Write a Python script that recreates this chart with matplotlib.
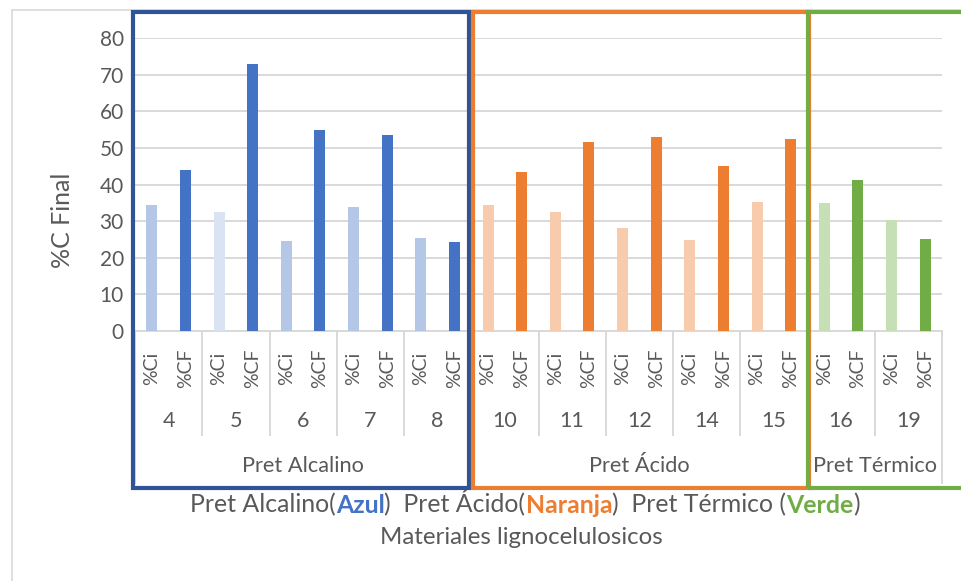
import matplotlib
matplotlib.use("Agg")
import matplotlib.pyplot as plt
from matplotlib.patches import Rectangle
from matplotlib.lines import Line2D
from matplotlib.offsetbox import TextArea, HPacker, AnnotationBbox

plt.rcParams['font.family'] = ['Lato', 'DejaVu Sans']

# ---------------- data ----------------
groups = ['4', '5', '6', '7', '8', '10', '11', '12', '14', '15', '16', '19']
treatments = ['Pret Alcalino', 'Pret Ácido', 'Pret Térmico']
group_counts = [5, 5, 2]
series_labels = ['%Ci', '%CF']
ci_values = [34.4, 32.5, 24.5, 33.8, 25.4, 34.4, 32.5, 28.1, 24.8, 35.2, 34.9, 30.3]
cf_values = [44.1, 72.9, 55.0, 53.7, 24.2, 43.4, 51.6, 52.9, 45.0, 52.4, 41.2, 25.1]
y_ticks = [0, 10, 20, 30, 40, 50, 60, 70, 80]

ci_colors = ['#B4C7E7', '#DAE3F3', '#B4C7E7', '#B4C7E7', '#B4C7E7',
             '#F8CBAD', '#F8CBAD', '#F8CBAD', '#F8CBAD', '#F8CBAD',
             '#C5E0B4', '#C5E0B4']
cf_colors = ['#4472C4'] * 5 + ['#ED7D31'] * 5 + ['#70AD47'] * 2
box_colors = ['#2F5597', '#ED7D31', '#70AD47']

TXT = '#595959'
GRID = '#D9D9D9'
W, H = 961, 581

def fx(px):
    return px / W

def fy(py):
    return 1 - py / H

fig = plt.figure(figsize=(W / 100, H / 100), dpi=100)
ax_left, ax_right, ax_top, ax_bot = 135, 942, 38.3, 331
ax = fig.add_axes([fx(ax_left), fy(ax_bot), fx(ax_right - ax_left), (ax_bot - ax_top) / H])
ax_hpx = ax_bot - ax_top

def ay(py):
    return (ax_bot - py) / ax_hpx

# bars
n = len(groups)
x_ci = [2 * i for i in range(n)]
x_cf = [2 * i + 1 for i in range(n)]
ax.bar(x_ci, ci_values, width=0.33, color=ci_colors, zorder=3)
ax.bar(x_cf, cf_values, width=0.33, color=cf_colors, zorder=3)

ax.set_xlim(-0.5, 2 * n - 0.5)
ax.set_ylim(0, 80)
ax.set_yticks(y_ticks)
ax.tick_params(axis='y', length=0, pad=8, labelsize=15, labelcolor=TXT)
ax.set_xticks([])
ax.yaxis.grid(True, color=GRID, lw=1.4)
ax.set_axisbelow(True)
for s in ['left', 'right', 'top']:
    ax.spines[s].set_visible(False)
ax.spines['bottom'].set_color(GRID)
ax.spines['bottom'].set_linewidth(1.4)

xt = ax.get_xaxis_transform()
# level 1 labels
for i in range(n):
    for j, xv in enumerate([x_ci[i], x_cf[i]]):
        ax.text(xv, ay(368), series_labels[j], rotation=90, ha='center', va='center',
                fontsize=14, color=TXT, transform=xt, clip_on=False)
    ax.text(2 * i + 0.5, ay(421), groups[i], ha='center', va='center',
            fontsize=15.5, color=TXT, transform=xt, clip_on=False)

# treatment labels and separators
start = 0
boundaries = [-0.5]
for t, c in zip(treatments, group_counts):
    end = start + c
    ax.text((2 * start + 2 * end - 1) / 2, ay(466), t, ha='center', va='center',
            fontsize=15.7, color=TXT, transform=xt, clip_on=False)
    for g in range(start + 1, end):
        ax.add_line(Line2D([2 * g - 0.5] * 2, [0, ay(435)], transform=xt, color=GRID,
                           lw=1.4, clip_on=False))
    boundaries.append(2 * end - 0.5)
    start = end
for b in boundaries:
    ax.add_line(Line2D([b, b], [0, ay(483)], transform=xt, color=GRID, lw=1.4, clip_on=False))

# y label
fig.text(fx(62), fy(220), '%C Final', rotation=90, ha='center', va='center',
         fontsize=18, color=TXT)

# colored caption line
parts = [('Pret Alcalino(', TXT, 'normal'), ('Azul', '#4472C4', 'bold'),
         (')  Pret Ácido(', TXT, 'normal'), ('Naranja', '#ED7D31', 'bold'),
         (')  Pret Térmico (', TXT, 'normal'), ('Verde', '#70AD47', 'bold'),
         (')', TXT, 'normal')]
boxes = [TextArea(t, textprops=dict(color=c, fontsize=17.9, fontweight=w)) for t, c, w in parts]
hp = HPacker(children=boxes, align='baseline', pad=0, sep=0)
ab = AnnotationBbox(hp, (fx(525), fy(503)), xycoords='figure fraction', frameon=False,
                    box_alignment=(0.5, 0.5))
fig.add_artist(ab)
fig.text(fx(521), fy(537), 'Materiales lignocelulosicos', ha='center', va='center',
         fontsize=17.3, color=TXT)

# outer chart border
fig.add_artist(Line2D([fx(12), fx(12)], [fy(10), 0], transform=fig.transFigure, color=GRID, lw=1.2))
fig.add_artist(Line2D([fx(12), 1], [fy(10), fy(10)], transform=fig.transFigure, color=GRID, lw=1.2))

# treatment boxes (pixel coords of line centres)
box_px = [(133, 12, 469, 488), (473, 12, 809, 488), (808, 12, 975, 488)]
for (x0, y0, x1, y1), c in zip(box_px, box_colors):
    fig.add_artist(Rectangle((fx(x0), fy(y1)), fx(x1 - x0), (y1 - y0) / H,
                             transform=fig.transFigure, fill=False, edgecolor=c,
                             lw=3, zorder=10, clip_on=False))

fig.savefig('out.png', dpi=100)
